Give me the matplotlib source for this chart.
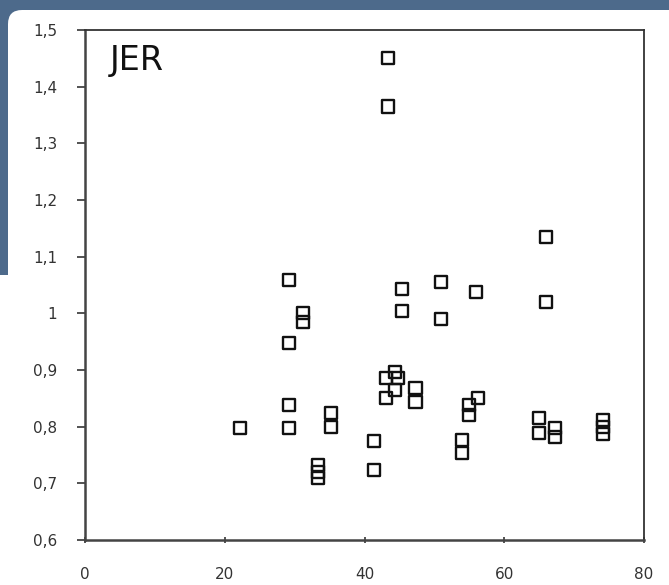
import matplotlib
matplotlib.use("Agg")
from matplotlib import pyplot as plt
from matplotlib.patches import Rectangle, FancyBboxPatch
from matplotlib.ticker import FuncFormatter

# data
x = [43.3, 43.3, 66.0, 66.0,
     29.2, 31.2, 31.2, 29.2,
     45.4, 45.4, 51.0, 51.0, 56.0,
     44.3, 43.1, 44.8, 43.1, 44.4, 47.3, 47.3,
     56.3, 55.0, 55.0, 54.0, 54.0,
     41.3, 41.3, 22.2, 29.2, 29.2,
     35.2, 35.2, 33.4, 33.4, 33.4,
     65.0, 65.0, 67.2, 67.2, 74.2, 74.2, 74.2]
y = [1.450, 1.365, 1.134, 1.020,
     1.059, 1.000, 0.985, 0.947,
     1.043, 1.004, 1.055, 0.990, 1.037,
     0.896, 0.886, 0.886, 0.850, 0.865, 0.868, 0.843,
     0.850, 0.838, 0.820, 0.776, 0.753,
     0.775, 0.723, 0.798, 0.838, 0.798,
     0.824, 0.800, 0.732, 0.720, 0.709,
     0.815, 0.789, 0.798, 0.782, 0.812, 0.800, 0.787]

x_ticks = [0, 20, 40, 60, 80]
y_ticks = [0.6, 0.7, 0.8, 0.9, 1.0, 1.1, 1.2, 1.3, 1.4, 1.5]
label = "JER"

blue = "#4d6a8b"

fig = plt.figure(figsize=(6.69, 5.85), dpi=100)
fig.patch.set_facecolor("white")

# slide background peeking through at top and left, white card with rounded corner
fig.patches.append(Rectangle((0, 1 - 10 / 585), 1, 10 / 585, transform=fig.transFigure,
                             facecolor=blue, edgecolor="none", zorder=-3))
fig.patches.append(Rectangle((0, 1 - 275 / 585), 8 / 669, 275 / 585, transform=fig.transFigure,
                             facecolor=blue, edgecolor="none", zorder=-3))
fig.patches.append(Rectangle((0, 1 - 40 / 585), 40 / 669, 40 / 585, transform=fig.transFigure,
                             facecolor=blue, edgecolor="none", zorder=-3))
fig.patches.append(FancyBboxPatch((8, -100), 800, 575 + 100, transform=None,
                                  boxstyle="round,pad=0,rounding_size=14",
                                  facecolor="white", edgecolor="none", zorder=-2))

ax = fig.add_axes([85 / 669, 45 / 585, 559 / 669, 510 / 585])
ax.set_zorder(1)
ax.scatter(x, y, marker="s", s=75, facecolors="none", edgecolors="#111111",
           linewidths=1.7, zorder=3)

ax.set_xlim(0, 80)
ax.set_ylim(0.6, 1.5)
ax.set_xticks(x_ticks)
ax.set_yticks(y_ticks)
ax.yaxis.set_major_formatter(FuncFormatter(lambda v, p: f"{v:g}".replace(".", ",")))

for side in ["left", "bottom"]:
    ax.spines[side].set_linewidth(1.8)
    ax.spines[side].set_color("#444444")
for side in ["top", "right"]:
    ax.spines[side].set_linewidth(1.3)
    ax.spines[side].set_color("#333333")

ax.tick_params(axis="y", direction="out", length=6, width=1.3, color="#444444",
               pad=14, labelsize=11, labelcolor="#333333")
ax.tick_params(axis="x", direction="inout", length=5, width=1.3, color="#444444",
               pad=17, labelsize=11, labelcolor="#333333")

ax.text(0.045, 0.94, label, transform=ax.transAxes, fontsize=24,
        ha="left", va="center", color="#111111")

fig.savefig("out.png", dpi=100)
